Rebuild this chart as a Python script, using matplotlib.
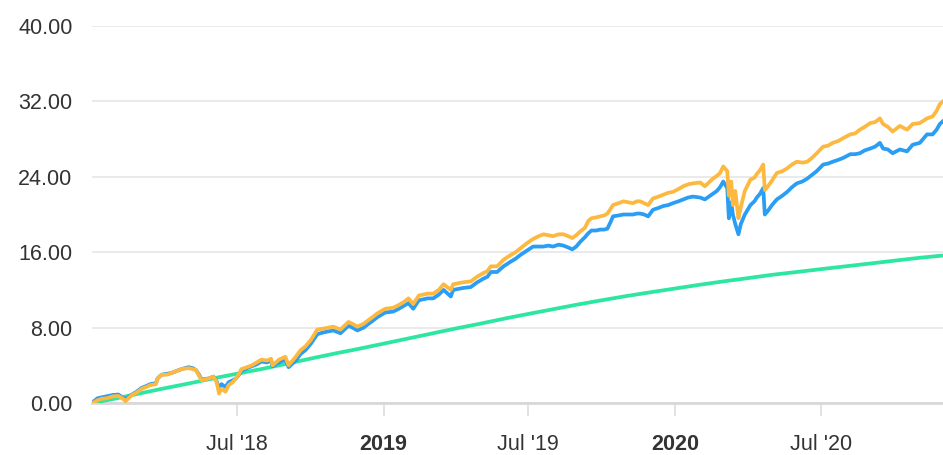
import numpy as np
import pandas as pd
import matplotlib
matplotlib.use("Agg")
import matplotlib.pyplot as plt

plt.rcParams["font.family"] = ["Liberation Sans", "DejaVu Sans"]

# portfolio (orange) and benchmark (blue) readings
dates = [
    "2018-01-02", "2018-01-08", "2018-01-13", "2018-01-19", "2018-01-27", "2018-02-03",
    "2018-02-08", "2018-02-12", "2018-02-20", "2018-02-26", "2018-03-04", "2018-03-10",
    "2018-03-15", "2018-03-22", "2018-03-24", "2018-03-29", "2018-04-05", "2018-04-11",
    "2018-04-17", "2018-04-23", "2018-05-02", "2018-05-07", "2018-05-11", "2018-05-15",
    "2018-05-18", "2018-05-27", "2018-06-02", "2018-06-06", "2018-06-09", "2018-06-12",
    "2018-06-17", "2018-06-21", "2018-06-26", "2018-06-30", "2018-07-04", "2018-07-07",
    "2018-07-14", "2018-07-20", "2018-07-26", "2018-08-01", "2018-08-08", "2018-08-13",
    "2018-08-15", "2018-08-23", "2018-08-31", "2018-09-04", "2018-09-13", "2018-09-19",
    "2018-09-25", "2018-10-02", "2018-10-10", "2018-10-18", "2018-10-24", "2018-10-30",
    "2018-11-08", "2018-11-18", "2018-11-23", "2018-11-29", "2018-12-07", "2018-12-13",
    "2018-12-18", "2018-12-24", "2019-01-03", "2019-01-13", "2019-01-20", "2019-01-26",
    "2019-02-01", "2019-02-07", "2019-02-14", "2019-02-25", "2019-03-04", "2019-03-11",
    "2019-03-17", "2019-03-26", "2019-03-29", "2019-04-10", "2019-04-20", "2019-04-28",
    "2019-05-06", "2019-05-11", "2019-05-15", "2019-05-23", "2019-05-31", "2019-06-09",
    "2019-06-15", "2019-06-21", "2019-06-30", "2019-07-07", "2019-07-14", "2019-07-20",
    "2019-07-26", "2019-08-01", "2019-08-08", "2019-08-14", "2019-08-20", "2019-08-25",
    "2019-08-30", "2019-09-04", "2019-09-10", "2019-09-14", "2019-09-18", "2019-09-24",
    "2019-09-29", "2019-10-04", "2019-10-08", "2019-10-12", "2019-10-15", "2019-10-22",
    "2019-10-28", "2019-11-03", "2019-11-09", "2019-11-14", "2019-11-18", "2019-11-23",
    "2019-11-28", "2019-12-04", "2019-12-11", "2019-12-17", "2019-12-23", "2019-12-29",
    "2020-01-05", "2020-01-11", "2020-01-17", "2020-01-23", "2020-02-01", "2020-02-07",
    "2020-02-12", "2020-02-17", "2020-02-22", "2020-02-26", "2020-03-01", "2020-03-06",
    "2020-03-08", "2020-03-11", "2020-03-13", "2020-03-16", "2020-03-20", "2020-03-23",
    "2020-03-28", "2020-04-04", "2020-04-09", "2020-04-12", "2020-04-16", "2020-04-20",
    "2020-04-22", "2020-04-26", "2020-05-01", "2020-05-07", "2020-05-14", "2020-05-20",
    "2020-05-26", "2020-06-01", "2020-06-08", "2020-06-14", "2020-06-20", "2020-06-26",
    "2020-07-04", "2020-07-10", "2020-07-16", "2020-07-23", "2020-07-29", "2020-08-07",
    "2020-08-13", "2020-08-19", "2020-08-25", "2020-09-01", "2020-09-07", "2020-09-13",
    "2020-09-17", "2020-09-23", "2020-09-29", "2020-10-08", "2020-10-17", "2020-10-24",
    "2020-11-02", "2020-11-11", "2020-11-18", "2020-11-23", "2020-11-27", "2020-12-01",
]

orange = [
    0.0, 0.3, 0.45, 0.5, 0.7, 0.75,
    0.5, 0.2, 0.85, 1.1, 1.5, 1.7,
    1.9, 2.0, 2.6, 3.0, 3.0, 3.2,
    3.4, 3.6, 3.7, 3.6, 3.5, 2.9,
    2.4, 2.6, 2.8, 2.2, 1.0, 1.5,
    1.2, 1.9, 2.2, 2.6, 3.1, 3.6,
    3.8, 4.0, 4.3, 4.6, 4.5, 4.7,
    4.0, 4.6, 4.9, 4.0, 4.9, 5.6,
    6.0, 6.7, 7.8, 7.9, 8.0, 8.1,
    7.8, 8.6, 8.4, 8.1, 8.4, 8.8,
    9.1, 9.5, 10.0, 10.1, 10.4, 10.7,
    11.1, 10.5, 11.4, 11.6, 11.6, 12.0,
    12.6, 12.0, 12.6, 12.8, 12.9, 13.4,
    13.8, 14.0, 14.5, 14.5, 15.2, 15.7,
    16.0, 16.4, 17.0, 17.4, 17.7, 17.9,
    17.8, 17.7, 17.9, 17.9, 17.7, 17.5,
    17.8, 18.2, 18.6, 19.3, 19.6, 19.7,
    19.8, 19.9, 20.1, 20.6, 21.0, 21.2,
    21.4, 21.3, 21.2, 21.4, 21.4, 21.2,
    21.0, 21.7, 21.9, 22.1, 22.3, 22.4,
    22.7, 23.0, 23.2, 23.3, 23.4, 23.0,
    23.4, 23.8, 24.1, 24.4, 25.1, 24.6,
    22.0, 23.5, 21.0, 22.5, 19.6, 20.8,
    22.5, 23.7, 23.9, 24.3, 24.7, 25.3,
    22.6, 23.0, 23.6, 24.4, 24.6, 24.9,
    25.3, 25.6, 25.5, 25.6, 26.0, 26.5,
    27.2, 27.3, 27.6, 27.8, 28.1, 28.5,
    28.6, 29.0, 29.3, 29.7, 29.8, 30.2,
    29.6, 29.3, 28.8, 29.4, 29.0, 29.6,
    29.7, 30.2, 30.4, 31.0, 31.7, 32.0,
]

blue = [
    0.1, 0.5, 0.6, 0.7, 0.85, 0.9,
    0.6, 0.4, 0.9, 1.2, 1.6, 1.8,
    2.0, 2.1, 2.6, 3.0, 3.1, 3.2,
    3.4, 3.6, 3.8, 3.7, 3.5, 3.0,
    2.5, 2.6, 2.8, 2.3, 1.5, 2.0,
    1.7, 2.2, 2.4, 2.6, 3.0, 3.4,
    3.7, 3.9, 4.1, 4.4, 4.3, 4.5,
    3.9, 4.3, 4.6, 3.8, 4.5, 5.2,
    5.6, 6.3, 7.3, 7.5, 7.6, 7.7,
    7.4, 8.2, 8.0, 7.7, 8.0, 8.4,
    8.7, 9.1, 9.6, 9.7, 10.0, 10.3,
    10.6, 10.0, 10.9, 11.1, 11.1, 11.5,
    12.0, 11.3, 12.0, 12.2, 12.3, 12.8,
    13.2, 13.4, 13.9, 13.9, 14.5, 15.0,
    15.3, 15.7, 16.2, 16.6, 16.6, 16.6,
    16.7, 16.6, 16.8, 16.7, 16.5, 16.3,
    16.6, 17.1, 17.6, 18.0, 18.3, 18.3,
    18.4, 18.4, 18.5, 19.2, 19.8, 19.9,
    20.0, 20.0, 20.0, 20.1, 20.1, 20.0,
    19.8, 20.5, 20.7, 20.9, 21.0, 21.2,
    21.4, 21.6, 21.8, 21.9, 21.8, 21.6,
    21.9, 22.2, 22.5, 22.9, 23.5, 22.8,
    19.6, 21.3, 20.0, 19.0, 17.9, 19.0,
    20.0, 21.0, 21.4, 21.8, 22.2, 22.8,
    20.0, 20.4, 21.0, 21.6, 22.0, 22.4,
    22.9, 23.3, 23.5, 23.8, 24.2, 24.6,
    25.3, 25.4, 25.6, 25.8, 26.0, 26.4,
    26.4, 26.5, 26.8, 27.0, 27.2, 27.6,
    27.0, 26.9, 26.5, 26.9, 26.7, 27.4,
    27.6, 28.5, 28.5, 29.0, 29.6, 29.9,
]

# smooth target curve (green), monthly readings
green_dates = [
    "2018-01-01", "2018-02-01", "2018-03-01", "2018-04-01", "2018-05-01", "2018-06-01",
    "2018-07-01", "2018-08-01", "2018-09-01", "2018-10-01", "2018-11-01", "2018-12-01",
    "2019-01-01", "2019-02-01", "2019-03-01", "2019-04-01", "2019-05-01", "2019-06-01",
    "2019-07-01", "2019-08-01", "2019-09-01", "2019-10-01", "2019-11-01", "2019-12-01",
    "2020-01-01", "2020-02-01", "2020-03-01", "2020-04-01", "2020-05-01", "2020-06-01",
    "2020-07-01", "2020-08-01", "2020-09-01", "2020-10-01", "2020-11-01", "2020-12-01",
]
green = [
    0.0, 0.5, 1.0, 1.55, 2.05, 2.6,
    3.1, 3.6, 4.15, 4.7, 5.25, 5.75,
    6.3, 6.85, 7.35, 7.9, 8.4, 8.95,
    9.45, 9.95, 10.45, 10.9, 11.35, 11.75,
    12.15, 12.55, 12.9, 13.25, 13.6, 13.9,
    14.2, 14.5, 14.8, 15.1, 15.4, 15.65,
]

tick_dates = ["2018-07-01", "2019-01-01", "2019-07-01", "2020-01-01", "2020-07-01"]
tick_labels = ["Jul '18", "2019", "Jul '19", "2020", "Jul '20"]
y_ticks = [0, 8, 16, 24, 32, 40]

x = pd.to_datetime(dates)
gx = pd.to_datetime(green_dates)

fig = plt.figure(figsize=(9.43, 4.55), dpi=100)
ax = fig.add_axes([92 / 943, 52 / 455, 851 / 943, 377 / 455])

ax.plot(gx, green, color="#2de6a0", lw=2.7, solid_capstyle="butt", zorder=3)
ax.plot(x, blue, color="#2a9df4", lw=2.7, zorder=4)
ax.plot(x, orange, color="#fdb83f", lw=2.7, zorder=5)

ax.set_xlim(pd.Timestamp("2018-01-01"), pd.Timestamp("2020-12-01"))
ax.set_ylim(0, 40)

ax.set_yticks(y_ticks)
ax.set_yticklabels([f"{v:.2f}" for v in y_ticks])
ax.set_xticks(pd.to_datetime(tick_dates))
ax.set_xticklabels(tick_labels)
for lab in ax.get_xticklabels():
    if not lab.get_text().startswith("Jul"):
        lab.set_fontweight("bold")

ax.grid(axis="y", color="#e6e6e6", lw=1.2)
ax.set_axisbelow(True)
for s in ["top", "right", "left"]:
    ax.spines[s].set_visible(False)
ax.spines["bottom"].set_color("#d8d8d8")
ax.spines["bottom"].set_linewidth(2)

ax.tick_params(axis="y", length=0, pad=14, labelsize=15.5, labelcolor="#333333")
ax.tick_params(axis="x", length=9, width=1.2, color="#dddddd", pad=13,
               labelsize=15.5, labelcolor="#333333")

fig.savefig("out.png", dpi=100)
